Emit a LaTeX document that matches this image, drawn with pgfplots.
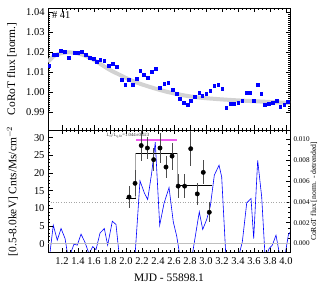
\documentclass[border=0pt]{standalone}
\usepackage{fontspec}
\setmainfont{Liberation Serif}
\usepackage{pgfplots}
\pgfplotsset{compat=1.18}

\definecolor{pinkline}{RGB}{240,90,240}

\pgfplotsset{
  base/.style={
    scale only axis, width=242bp,
    xmin=1.025, xmax=4.05,
    xtick={1.2,1.4,1.6,1.8,2.0,2.2,2.4,2.6,2.8,3.0,3.2,3.4,3.6,3.8,4.0},
    minor x tick num=3,
    tick align=inside,
    major tick length=4.5bp, minor tick length=2.3bp,
    every tick/.style={black, line width=0.6pt},
    /pgf/number format/assume math mode=true,
    scaled ticks=false,
    tick label style={font=\fontsize{10.5}{11}\selectfont},
    label style={font=\fontsize{11.5}{12}\selectfont},
    axis line style={line width=0.8pt},
    clip=true,
  }
}

\pgfplotstableread{
x y
1.025 1.0150
1.10 1.0180
1.20 1.0195
1.30 1.0198
1.40 1.0193
1.50 1.0180
1.60 1.0160
1.70 1.0135
1.80 1.0110
1.90 1.0090
2.00 1.0070
2.10 1.0052
2.20 1.0038
2.30 1.0025
2.40 1.0013
2.50 1.0002
2.60 0.9993
2.70 0.9985
2.80 0.9978
2.90 0.9973
3.00 0.9969
3.20 0.9963
3.40 0.9958
3.60 0.9954
3.80 0.9950
4.00 0.9946
4.05 0.9945
}\smoothtab

\pgfplotstableread{
x y
1.041 1.0130
1.096 1.0188
1.141 1.0185
1.183 1.0205
1.238 1.0200
1.288 1.0173
1.354 1.0198
1.400 1.0195
1.450 1.0202
1.496 1.0187
1.542 1.0170
1.592 1.0168
1.638 1.0153
1.679 1.0163
1.729 1.0157
1.784 1.0132
1.838 1.0142
1.884 1.0127
1.946 1.0063
1.991 1.0035
2.038 1.0063
2.084 1.0035
2.134 1.0068
2.179 1.0107
2.225 1.0085
2.275 1.0072
2.321 1.0100
2.371 1.0115
2.421 1.0023
2.479 1.0042
2.529 1.0048
2.584 1.0013
2.634 0.9992
2.675 0.9967
2.725 0.9947
2.771 0.9935
2.813 0.9958
2.863 0.9975
2.916 0.9998
2.954 0.9980
3.004 0.9990
3.054 1.0007
3.104 1.0032
3.154 1.0038
3.204 1.0018
3.254 0.9923
3.309 0.9943
3.350 0.9942
3.404 0.9948
3.454 0.9957
3.509 0.9995
3.554 0.9998
3.596 0.9958
3.646 1.0035
3.691 0.9990
3.734 0.9937
3.784 0.9943
3.834 0.9948
3.884 0.9955
3.929 0.9928
3.979 0.9935
4.021 0.9950
}\corottab

\pgfplotstableread{
x y
1.040 -0.0015
1.091 0.00176
1.141 0.00032
1.188 0.00144
1.238 0.00048
1.280 -0.0015
1.350 -0.00007
1.391 -0.00016
1.438 0.0009
1.488 0.0001
1.538 -0.0010
1.584 -0.0003
1.625 -0.0006
1.675 0.0010
1.729 0.00144
1.771 -0.00016
1.829 0.00214
1.875 0.00183
1.920 -0.0015
1.970 -0.0020
2.020 -0.0020
2.070 -0.0020
2.110 -0.0015
2.175 0.00602
2.229 0.00487
2.271 0.00423
2.321 0.00679
2.366 0.00974
2.421 0.00176
2.475 0.00385
2.538 0.00538
2.591 0.00208
2.634 0.0007
2.680 -0.0015
2.730 -0.0020
2.780 -0.0020
2.820 -0.0015
2.916 0.00304
2.959 0.00135
3.009 0.00231
3.054 0.00359
3.104 0.00657
3.163 0.00753
3.196 0.0064
3.250 -0.0015
3.300 -0.0020
3.350 -0.0020
3.400 -0.0015
3.454 0.00015
3.509 0.0039
3.563 0.00433
3.596 0.00048
3.646 0.0080
3.696 0.00448
3.740 -0.0015
3.788 -0.0005
3.829 -0.00016
3.875 0.0008
3.930 -0.0015
3.980 -0.0015
4.029 0.0008
4.060 0.0012
}\detrtab

\pgfplotstableread{
x y e
2.038 13.2 3.2
2.113 17.1 3.7
2.190 27.8 4.4
2.267 27.1 3.2
2.346 23.8 3.3
2.425 27.1 4.2
2.500 21.7 3.0
2.576 24.8 3.8
2.652 16.3 3.3
2.733 16.3 3.3
2.809 26.9 5.0
2.891 14.1 3.2
2.966 20.2 3.4
3.041 8.9 2.8
}\xraytab

\begin{document}
\begin{tikzpicture}
\useasboundingbox (0,0) rectangle (327bp,288bp);

% ---------------- top panel ----------------
\begin{axis}[base, at={(48bp,158bp)}, anchor=south west, height=122bp,
  ymin=0.981, ymax=1.042,
  ytick={0.99,1.00,1.01,1.02,1.03,1.04}, minor y tick num=9,
  xticklabels={}, xtick pos=both, ytick pos=both, yticklabel pos=left,
  yticklabel style={/pgf/number format/.cd, fixed, fixed zerofill, precision=2},
  ylabel={CoRoT flux [norm.]},
  ylabel style={at={(axis description cs:-0.149,0.5)}, anchor=center}]
\addplot[gray!35, line width=4bp, smooth] table[x=x, y=y] {\smoothtab};
\addplot[only marks, mark=square*, mark size=1.35bp, blue] table[x=x, y=y] {\corottab};
\node[anchor=north west, inner sep=0pt, font=\fontsize{10.5}{11}\selectfont]
  at (axis description cs:0.016,0.972) {\# 41};
\end{axis}

% ---------------- bottom panel, right axis ----------------
\begin{axis}[base, at={(48bp,35.3bp)}, anchor=south west, height=122.7bp,
  ymin=-0.000885, ymax=0.010913,
  axis y line*=right, axis x line=none,
  ytick={0,0.002,0.004,0.006,0.008,0.010}, minor y tick num=3,
  yticklabel style={font=\fontsize{7.2}{8}\selectfont,
    /pgf/number format/.cd, fixed, fixed zerofill, precision=3},
  ylabel={CoRoT flux [norm. - detrended]},
  ylabel style={font=\fontsize{7.7}{8}\selectfont,
    at={(axis description cs:1.099,0.5)}, anchor=center}]
\addplot[gray!70, dotted, line width=0.6pt] coordinates {(1.025,0.004) (4.05,0.004)};
\addplot[blue, line width=0.6pt] table[x=x, y=y] {\detrtab};
\end{axis}

% ---------------- bottom panel, left axis ----------------
\begin{axis}[base, at={(48bp,35.3bp)}, anchor=south west, height=122.7bp,
  ymin=-2.55, ymax=32.2,
  ytick={0,5,10,15,20,25,30}, minor y tick num=4,
  xtick pos=both, xticklabel pos=bottom, ytick pos=left,
  xticklabel style={yshift=-1.5bp, /pgf/number format/.cd, fixed, fixed zerofill, precision=1},
  xlabel={MJD - 55898.1},
  xlabel style={yshift=-2.5bp},
  ylabel={[0.5-8.0keV] Cnts/Ms/cm$^{-2}$},
  ylabel style={at={(axis description cs:-0.147,0.5)}, anchor=center}]
\addplot[gray!50, line width=0.9pt] coordinates {(1.025,0) (4.05,0)};
\addplot[gray!70, line width=1pt, const plot] coordinates {(2.0,12.8) (2.12,25.6) (2.64,16.5) (3.07,16.5)};
\addplot[black, line width=1pt] coordinates {(2.0,12.8) (2.12,12.8)};
\addplot[black, line width=1pt] coordinates {(2.12,25.6) (2.64,25.6)};
\addplot[black, line width=1pt] coordinates {(2.64,16.5) (3.07,16.5)};
\addplot[draw=pinkline, line width=2pt] coordinates {(2.125,29.5) (2.64,29.5)};
\addplot[only marks, mark=*, mark size=2.2bp, black,
  error bars/.cd, y dir=both, y explicit,
  error bar style={black!70, line width=1pt}, error mark=none]
  table[x=x, y=y, y error=e] {\xraytab};
\node[font=\fontsize{4.8}{5}\selectfont, text=black!80, inner sep=0pt]
  at (axis cs:2.025,30.7) {L\textsubscript{fl}/L\textsubscript{q,fit}=1.044±0.023};
\end{axis}
\end{tikzpicture}
\end{document}
